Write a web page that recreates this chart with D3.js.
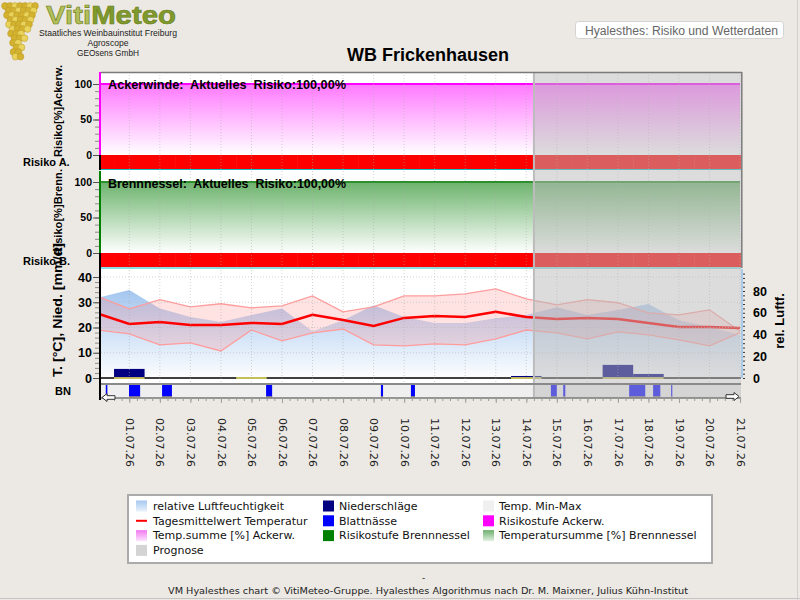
<!DOCTYPE html>
<html>
<head>
<meta charset="utf-8">
<script src="https://cdn.jsdelivr.net/npm/d3@7"></script>
<style>
  body { margin: 0; background: #ECE9E4; }
  svg { display: block; font-family: "DejaVu Sans", sans-serif; }
  .pre { white-space: pre; }
</style>
</head>
<body>
<svg id="chart" width="800" height="600"></svg>
<script>
// ---- data ----
const days = ["2026-06-30", "2026-07-01", "2026-07-02", "2026-07-03", "2026-07-04", "2026-07-05",
  "2026-07-06", "2026-07-07", "2026-07-08", "2026-07-09", "2026-07-10", "2026-07-11", "2026-07-12",
  "2026-07-13", "2026-07-14", "2026-07-15", "2026-07-16", "2026-07-17", "2026-07-18", "2026-07-19",
  "2026-07-20", "2026-07-21"];
const humidity = [74, 81, 64, 56, 51.5, 58, 64, 43, 53, 67, 56, 50.5, 50.5, 55, 58, 65, 58, 62.5, 68, 53, 47, 39.5];
const tempMean = [25.4, 21.4, 22.2, 21.0, 21.0, 21.8, 21.4, 25.0, 23.0, 20.6, 23.8, 24.6, 24.2, 26.2, 24.2, 23.4, 23.8, 23.4, 21.8, 20.2, 20.2, 19.8];
const tempMax = [32.1, 27.4, 31.0, 28.2, 29.4, 27.8, 28.6, 32.5, 26.2, 28.2, 32.5, 32.5, 33.3, 35.3, 31.3, 29.0, 31.0, 29.8, 25.8, 25.0, 27.0, 18.5];
const tempMin = [19.0, 17.5, 13.1, 13.9, 10.7, 19.0, 14.7, 17.9, 19.4, 13.1, 12.7, 13.5, 13.1, 15.5, 19.0, 17.9, 15.5, 18.3, 17.1, 15.1, 12.7, 18.0];
const precipitation = [0, 3.6, 0, 0, 0, 0.1, 0, 0, 0, 0, 0, 0, 0, 0, 0.8, 0, 0, 5.2, 1.6, 0, 0, 0];
const riskSumAcker = [100, 100, 100, 100, 100, 100, 100, 100, 100, 100, 100, 100, 100, 100, 100, 100, 100, 100, 100, 100, 100, 100];
const riskSumBrenn = [100, 100, 100, 100, 100, 100, 100, 100, 100, 100, 100, 100, 100, 100, 100, 100, 100, 100, 100, 100, 100, 100];
const riskLevelAcker = [3, 3, 3, 3, 3, 3, 3, 3, 3, 3, 3, 3, 3, 3, 3, 3, 3, 3, 3, 3, 3, 3];
const riskLevelBrenn = [3, 3, 3, 3, 3, 3, 3, 3, 3, 3, 3, 3, 3, 3, 3, 3, 3, 3, 3, 3, 3, 3];
const leafWetness = [
  ["2026-06-30T05:30", "2026-06-30T06:45"],
  ["2026-06-30T23:45", "2026-07-01T08:30"],
  ["2026-07-02T01:45", "2026-07-02T09:30"],
  ["2026-07-05T11:30", "2026-07-05T16:15"],
  ["2026-07-09T05:45", "2026-07-09T07:25"],
  ["2026-07-10T05:20", "2026-07-10T08:30"],
  ["2026-07-14T19:20", "2026-07-15T00:00"],
  ["2026-07-15T05:00", "2026-07-15T06:40"],
  ["2026-07-17T08:50", "2026-07-17T21:30"],
  ["2026-07-18T03:40", "2026-07-18T09:20"],
  ["2026-07-18T17:50", "2026-07-18T18:35"]
];
const forecastStart = "2026-07-14T06:00";
const leftTicksRisk = [0, 50, 100];
const leftTicksTemp = [0, 10, 20, 30, 40];
const rightTicksHum = [0, 20, 40, 60, 80];
const legendLabels = ["relative Luftfeuchtigkeit", "Niederschläge", "Temp. Min-Max",
  "Tagesmittelwert Temperatur", "Blattnässe", "Risikostufe Ackerw.",
  "Temp.summe [%] Ackerw.", "Risikostufe Brennnessel", "Temperatursumme [%] Brennnessel",
  "Prognose"];

// ---- setup ----
const parseDay = d3.timeParse("%Y-%m-%d");
const parseTime = d3.timeParse("%Y-%m-%dT%H:%M");
const dates = days.map(parseDay);
const rows = dates.map((d, i) => ({
  date: d, hum: humidity[i], mean: tempMean[i], max: tempMax[i], min: tempMin[i],
  rain: precipitation[i], sumA: riskSumAcker[i], sumB: riskSumBrenn[i],
  levA: riskLevelAcker[i], levB: riskLevelBrenn[i]
}));
const levelColor = { 1: "#00a000", 2: "#ffd000", 3: "#ff0000" };

const plotLeft = 101, plotRight = 741;
const svg = d3.select("#chart");
const defs = svg.append("defs");

const x = d3.scaleTime()
  .domain([new Date(2026, 5, 30, 1, 45), new Date(2026, 6, 21, 0, 45)])
  .range([plotLeft, plotRight]);
const yA = d3.scaleLinear().domain([0, 100]).range([155, 84]);
const yB = d3.scaleLinear().domain([0, 100]).range([253, 182]);
const yT = d3.scaleLinear().domain([0, 40]).range([378, 277]);
const yH = d3.scaleLinear().domain([0, 80]).range([378, 291]);
const halfDay = d => d3.timeHour.offset(d, -12);
const nextHalf = d => d3.timeHour.offset(d, 12);

function vGradient(id, y1, y2, c1, c2) {
  const g = defs.append("linearGradient").attr("id", id)
    .attr("gradientUnits", "userSpaceOnUse")
    .attr("x1", 0).attr("x2", 0).attr("y1", y1).attr("y2", y2);
  g.append("stop").attr("offset", 0).attr("stop-color", c1);
  g.append("stop").attr("offset", 1).attr("stop-color", c2);
}
vGradient("gradA", 84, 155, "#ff78ff", "#ffffff");
vGradient("gradB", 182, 253, "#6cb36c", "#ffffff");
vGradient("gradH", 282, 380, "#9cc1ee", "#ffffff");
function boxGradient(id, c1, c2) {
  const g = defs.append("linearGradient").attr("id", id).attr("x1", 0).attr("x2", 0).attr("y1", 0).attr("y2", 1);
  g.append("stop").attr("offset", 0).attr("stop-color", c1);
  g.append("stop").attr("offset", 1).attr("stop-color", c2);
}
boxGradient("lgH", "#a6c8f0", "#e8f1fb");
boxGradient("lgA", "#f07af0", "#fde2fd");
boxGradient("lgB", "#6dae6d", "#e2f0e2");

defs.append("clipPath").attr("id", "plotClip")
  .append("rect").attr("x", plotLeft).attr("y", 72).attr("width", plotRight - plotLeft).attr("height", 326);

// ---- header ----
const logo = svg.append("g");
for (let r = 0; r < 12; r++) {
  const cy = 6 + r * 4.6;
  const half = Math.max(2.5, 16 - r * 1.5);
  const cx0 = 21 - r * 0.5;
  for (let c = -half; c <= half + 0.1; c += 5) {
    logo.append("circle").attr("cx", cx0 + c + (r % 2) * 2.5).attr("cy", cy).attr("r", 3.4)
      .attr("fill", (r + Math.round(c)) % 3 === 0 ? "#e9d35a" : "#d3b22e")
      .attr("stroke", "#b8962a").attr("stroke-width", 0.5);
  }
}
const logoText = svg.append("text").attr("x", 46).attr("y", 24)
  .attr("font-family", "Liberation Sans, Arial, sans-serif").attr("font-weight", "bold")
  .attr("font-size", 25).attr("textLength", 130).attr("lengthAdjust", "spacingAndGlyphs")
  .attr("stroke", "#6d7f22").attr("stroke-width", 0.6);
logoText.append("tspan").attr("fill", "#b3bf5a").text("Viti");
logoText.append("tspan").attr("fill", "#7f9a2c").text("Meteo");
[["Staatliches Weinbauinstitut Freiburg", 36, 138], ["Agroscope", 46, 41], ["GEOsens GmbH", 56, 62]]
  .forEach(([t, yy, len]) => {
    svg.append("text").attr("x", 108).attr("y", yy).attr("text-anchor", "middle")
      .attr("font-family", "Liberation Sans, Arial, sans-serif").attr("font-size", 9.5)
      .attr("textLength", len).attr("lengthAdjust", "spacingAndGlyphs")
      .attr("fill", "#222").text(t);
  });

svg.append("rect").attr("x", 575.5).attr("y", 21.5).attr("width", 208).attr("height", 17).attr("rx", 3)
  .attr("fill", "#fff").attr("stroke", "#d4d4d4");
svg.append("text").attr("x", 585).attr("y", 34.5)
  .attr("font-family", "Liberation Sans, Arial, sans-serif").attr("font-size", 12)
  .attr("textLength", 193).attr("lengthAdjust", "spacingAndGlyphs")
  .attr("fill", "#666").text("Hyalesthes: Risiko und Wetterdaten");

svg.append("text").attr("x", 428).attr("y", 61).attr("text-anchor", "middle")
  .attr("font-family", "Liberation Sans, Arial, sans-serif").attr("font-weight", "bold")
  .attr("font-size", 18).attr("fill", "#000").text("WB Frickenhausen");

// ---- plot ----
const plot = svg.append("g").attr("clip-path", "url(#plotClip)");
plot.append("rect").attr("x", plotLeft).attr("y", 72).attr("width", plotRight - plotLeft).attr("height", 312).attr("fill", "#fff");

// panel 1: Ackerwinde
plot.append("path").datum(rows)
  .attr("fill", "url(#gradA)")
  .attr("d", d3.area().x(d => x(d.date)).y0(yA(0)).y1(d => yA(d.sumA)));
plot.append("path").datum(rows)
  .attr("fill", "none").attr("stroke", "#ff00ff").attr("stroke-width", 2)
  .attr("d", d3.line().x(d => x(d.date)).y(d => yA(d.sumA)));
plot.selectAll(".levA").data(rows).join("rect")
  .attr("x", d => x(halfDay(d.date))).attr("width", d => x(nextHalf(d.date)) - x(halfDay(d.date)) + 0.5)
  .attr("y", yA(0)).attr("height", 14).attr("fill", d => levelColor[d.levA]);

// panel 2: Brennnessel
plot.append("path").datum(rows)
  .attr("fill", "url(#gradB)")
  .attr("d", d3.area().x(d => x(d.date)).y0(yB(0)).y1(d => yB(d.sumB)));
plot.append("path").datum(rows)
  .attr("fill", "none").attr("stroke", "#2f8f2f").attr("stroke-width", 2)
  .attr("d", d3.line().x(d => x(d.date)).y(d => yB(d.sumB)));
plot.selectAll(".levB").data(rows).join("rect")
  .attr("x", d => x(halfDay(d.date))).attr("width", d => x(nextHalf(d.date)) - x(halfDay(d.date)) + 0.5)
  .attr("y", yB(0)).attr("height", 14).attr("fill", d => levelColor[d.levB]);

[169.5, 268].forEach(yy => plot.append("line").attr("x1", plotLeft).attr("x2", plotRight)
  .attr("y1", yy).attr("y2", yy).attr("stroke", "#10c0c8").attr("stroke-width", 1));

// panel 3: weather
plot.append("path").datum(rows)
  .attr("fill", "url(#gradH)")
  .attr("d", d3.area().x(d => x(d.date)).y0(yH(0)).y1(d => yH(d.hum)));
plot.append("path").datum(rows)
  .attr("fill", "#ff8080").attr("fill-opacity", 0.22)
  .attr("d", d3.area().x(d => x(d.date)).y0(d => yT(d.min)).y1(d => yT(d.max)));
["max", "min"].forEach(k => plot.append("path").datum(rows)
  .attr("fill", "none").attr("stroke", "#ff9c9c").attr("stroke-width", 1.3)
  .attr("d", d3.line().x(d => x(d.date)).y(d => yT(d[k]))));
plot.append("path").datum(rows)
  .attr("fill", "none").attr("stroke", "#ff0000").attr("stroke-width", 2.5)
  .attr("d", d3.line().x(d => x(d.date)).y(d => yT(d.mean)));

plot.append("line").attr("x1", plotLeft).attr("x2", plotRight).attr("y1", 378).attr("y2", 378)
  .attr("stroke", "#000").attr("stroke-width", 1.5);
const rainDays = rows.filter(d => d.rain > 0);
plot.selectAll(".rain").data(rainDays).join("rect")
  .attr("x", d => x(halfDay(d.date))).attr("width", d => x(nextHalf(d.date)) - x(halfDay(d.date)))
  .attr("y", d => yT(d.rain)).attr("height", d => yT(0) - yT(d.rain)).attr("fill", "#000080");
plot.selectAll(".rainBase").data(rainDays).join("line")
  .attr("x1", d => x(halfDay(d.date))).attr("x2", d => x(nextHalf(d.date)))
  .attr("y1", 378).attr("y2", 378).attr("stroke", "#f4ee60").attr("stroke-width", 1.5);

// grid
plot.selectAll(".hgrid").data([10, 20, 30, 40]).join("line")
  .attr("x1", plotLeft).attr("x2", plotRight).attr("y1", d => yT(d)).attr("y2", d => yT(d))
  .attr("stroke", "#b8b8b8").attr("stroke-opacity", 0.6).attr("stroke-dasharray", "1,2");
const dayTicks = x.ticks(d3.timeDay.every(1));
plot.selectAll(".vgrid").data(dayTicks).join("line")
  .attr("x1", d => x(d)).attr("x2", d => x(d)).attr("y1", 72).attr("y2", 384)
  .attr("stroke", "#a8a8a8").attr("stroke-opacity", 0.5).attr("stroke-dasharray", "1,2");

// BN strip
plot.append("rect").attr("x", plotLeft).attr("y", 385).attr("width", plotRight - plotLeft).attr("height", 12.5).attr("fill", "#efefef");
plot.selectAll(".bn").data(leafWetness).join("rect")
  .attr("x", d => x(parseTime(d[0])))
  .attr("width", d => Math.max(1.2, x(parseTime(d[1])) - x(parseTime(d[0]))))
  .attr("y", 385).attr("height", 12.5).attr("fill", "#0000ff");
plot.selectAll(".bnBase").data(leafWetness).join("rect")
  .attr("x", d => x(parseTime(d[0])))
  .attr("width", d => Math.max(1.2, x(parseTime(d[1])) - x(parseTime(d[0]))))
  .attr("y", 396.5).attr("height", 1.2).attr("fill", "#f4e040");

// forecast overlay
const xf = x(parseTime(forecastStart));
plot.append("rect").attr("x", xf).attr("y", 72).attr("width", plotRight - xf).attr("height", 326)
  .attr("fill", "rgb(185,185,185)").attr("fill-opacity", 0.5);
plot.append("line").attr("x1", xf).attr("x2", xf).attr("y1", 72).attr("y2", 398)
  .attr("stroke", "#bcbcbc").attr("stroke-width", 2);

// frame lines
svg.append("line").attr("x1", plotLeft).attr("x2", 742).attr("y1", 72.5).attr("y2", 72.5).attr("stroke", "#7a7a7a").attr("stroke-width", 1.5);
svg.append("line").attr("x1", 741.8).attr("x2", 741.8).attr("y1", 72).attr("y2", 268).attr("stroke", "#7a7a7a").attr("stroke-width", 1.5);
svg.append("line").attr("x1", 742).attr("x2", 742).attr("y1", 269).attr("y2", 378).attr("stroke", "#a9cbeb").attr("stroke-width", 2);
svg.append("line").attr("x1", plotLeft).attr("x2", plotRight).attr("y1", 384).attr("y2", 384).attr("stroke", "#8a8a8a").attr("stroke-width", 2);
svg.append("line").attr("x1", plotLeft).attr("x2", plotRight).attr("y1", 398).attr("y2", 398).attr("stroke", "#7a7a7a").attr("stroke-width", 1.5);

// left axis lines coloured per panel
[[72, 155, "#ff00ff"], [155, 170, "#000"], [171, 253, "#008000"], [253, 268, "#000"], [268, 400, "#000"]]
  .forEach(([a, b, c]) => svg.append("line").attr("x1", 100).attr("x2", 100).attr("y1", a).attr("y2", b)
    .attr("stroke", c).attr("stroke-width", 2));

function styleAxis(g, color) {
  g.select(".domain").remove();
  g.selectAll("line").attr("stroke", color);
}
function leftAxis(scale, majors, minors, fontSize) {
  svg.append("g").attr("transform", "translate(99,0)")
    .call(d3.axisLeft(scale).tickValues(minors).tickSize(4).tickFormat(""))
    .call(g => styleAxis(g, "#8c8c8c"));
  svg.append("g").attr("transform", "translate(99,0)")
    .call(d3.axisLeft(scale).tickValues(majors).tickSize(6).tickPadding(1))
    .call(g => styleAxis(g, "#555"))
    .call(g => g.selectAll("text").attr("font-family", "Liberation Sans, Arial, sans-serif")
      .attr("font-weight", "bold").attr("font-size", fontSize).attr("fill", "#000"));
}
leftAxis(yA, leftTicksRisk, d3.range(0, 101, 10), 10.5);
leftAxis(yB, leftTicksRisk, d3.range(0, 101, 10), 10.5);
leftAxis(yT, leftTicksTemp, d3.range(0, 41, 2), 12.5);

svg.append("g").attr("transform", "translate(743,0)")
  .call(d3.axisRight(yH).tickValues(d3.range(0, 100, 4)).tickSize(2).tickFormat(""))
  .call(g => styleAxis(g, "#333"));
svg.append("g").attr("transform", "translate(742,0)")
  .call(d3.axisRight(yH).tickValues(rightTicksHum).tickSize(0).tickPadding(11))
  .call(g => g.select(".domain").remove())
  .call(g => g.selectAll("text").attr("font-family", "Liberation Sans, Arial, sans-serif")
    .attr("font-weight", "bold").attr("font-size", 12.5).attr("fill", "#000"));

// bottom time axis
svg.append("g").attr("transform", "translate(0,398)")
  .call(d3.axisBottom(x).ticks(d3.timeHour.every(6)).tickSize(3).tickFormat(""))
  .call(g => styleAxis(g, "#9a9a9a"));
svg.append("g").attr("transform", "translate(0,398)")
  .call(d3.axisBottom(x).ticks(d3.timeDay.every(1)).tickSize(5).tickFormat(d3.timeFormat("%d.%m.%y")))
  .call(g => styleAxis(g, "#a0a0a0"))
  .call(g => g.selectAll("text")
    .attr("transform", "rotate(90)").attr("text-anchor", "start")
    .attr("x", 20).attr("y", 0).attr("dy", "0.35em")
    .attr("font-family", "DejaVu Sans, sans-serif").attr("font-size", 11).attr("fill", "#222"));

// scroll arrows
function arrow(tx, ty, dir) {
  svg.append("path").attr("transform", `translate(${tx},${ty}) scale(${dir},1)`)
    .attr("d", "M0,0 L5,-4 L5,-1.8 L13,-1.8 L13,1.8 L5,1.8 L5,4 Z")
    .attr("fill", "#fff").attr("stroke", "#333").attr("stroke-width", 1);
}
arrow(102, 397.5, 1);
arrow(739, 396.5, -1);

// ---- panel labels ----
const bold = sel => sel.attr("font-family", "Liberation Sans, Arial, sans-serif").attr("font-weight", "bold").attr("fill", "#000");
svg.append("text").attr("class", "pre").attr("x", 108).attr("y", 89).attr("font-size", 13)
  .attr("textLength", 238).attr("lengthAdjust", "spacingAndGlyphs").call(bold)
  .text("Ackerwinde:  Aktuelles  Risiko:100,00%");
svg.append("text").attr("class", "pre").attr("x", 108).attr("y", 188).attr("font-size", 13)
  .attr("textLength", 238).attr("lengthAdjust", "spacingAndGlyphs").call(bold)
  .text("Brennnessel:  Aktuelles  Risiko:100,00%");

[["Risiko[%]Ackerw.", 111, 92, 11], ["Risiko[%]Brenn.", 212, 86, 11], ["T. [°C], Nied. [mm/d]", 310, 134, 13]]
  .forEach(([t, cy, len, fs]) => svg.append("text")
    .attr("transform", `translate(62,${cy}) rotate(-90)`).attr("text-anchor", "middle")
    .attr("font-size", fs).attr("textLength", len).attr("lengthAdjust", "spacingAndGlyphs")
    .call(bold).text(t));
svg.append("text").attr("transform", "translate(784,321) rotate(-90)").attr("text-anchor", "middle")
  .attr("font-size", 13).call(bold).text("rel. Luftf.");
svg.append("text").attr("x", 23).attr("y", 166).attr("font-size", 11).call(bold).text("Risiko A.");
svg.append("text").attr("x", 23).attr("y", 265).attr("font-size", 11).call(bold).text("Risiko B.");
svg.append("text").attr("x", 55).attr("y", 395).attr("font-size", 11).call(bold).text("BN");

// ---- legend ----
svg.append("rect").attr("x", 128).attr("y", 495).attr("width", 584).attr("height", 68)
  .attr("fill", "#fff").attr("stroke", "#aaa").attr("stroke-width", 2);
const colSw = [136, 323, 483], colTx = [153, 339, 499];
const swatch = [
  g => g.append("rect").attr("width", 11).attr("height", 11).attr("y", -5.5).attr("fill", "url(#lgH)"),
  g => g.append("rect").attr("width", 11).attr("height", 11).attr("y", -5.5).attr("fill", "#000080"),
  g => g.append("rect").attr("width", 11).attr("height", 11).attr("y", -5.5).attr("fill", "#f0f0f0"),
  g => g.append("line").attr("x1", 0).attr("x2", 11).attr("stroke", "#ff0000").attr("stroke-width", 2),
  g => g.append("rect").attr("width", 11).attr("height", 11).attr("y", -5.5).attr("fill", "#0000ff"),
  g => g.append("rect").attr("width", 11).attr("height", 11).attr("y", -5.5).attr("fill", "#ff00ff"),
  g => g.append("rect").attr("width", 11).attr("height", 11).attr("y", -5.5).attr("fill", "url(#lgA)"),
  g => g.append("rect").attr("width", 11).attr("height", 11).attr("y", -5.5).attr("fill", "#008000"),
  g => g.append("rect").attr("width", 11).attr("height", 11).attr("y", -5.5).attr("fill", "url(#lgB)"),
  g => g.append("rect").attr("width", 11).attr("height", 11).attr("y", -5.5).attr("fill", "#d4d4d4")
];
legendLabels.forEach((label, i) => {
  const col = i % 3, row = Math.floor(i / 3);
  const cy = 506 + row * 14.8;
  const g = svg.append("g").attr("transform", `translate(${colSw[col]},${cy})`);
  swatch[i](g);
  svg.append("text").attr("x", colTx[col]).attr("y", cy).attr("dy", "0.35em")
    .attr("font-family", "DejaVu Sans, sans-serif").attr("font-size", 11).attr("fill", "#111")
    .text(label);
});

// ---- footer ----
svg.append("text").attr("x", 422).attr("y", 581).attr("font-size", 9).attr("fill", "#222").text("-");
svg.append("text").attr("x", 428).attr("y", 594).attr("text-anchor", "middle")
  .attr("font-family", "DejaVu Sans, sans-serif").attr("font-size", 9).attr("fill", "#222")
  .attr("textLength", 520).attr("lengthAdjust", "spacingAndGlyphs")
  .text("VM Hyalesthes chart © VitiMeteo-Gruppe. Hyalesthes Algorithmus nach Dr. M. Maixner, Julius Kühn-Institut");
svg.append("line").attr("x1", 0).attr("x2", 800).attr("y1", 598.5).attr("y2", 598.5).attr("stroke", "#c4c4c4");
svg.append("line").attr("x1", 797.5).attr("x2", 797.5).attr("y1", 0).attr("y2", 600).attr("stroke", "#d0d0d0");
</script>
</body>
</html>
